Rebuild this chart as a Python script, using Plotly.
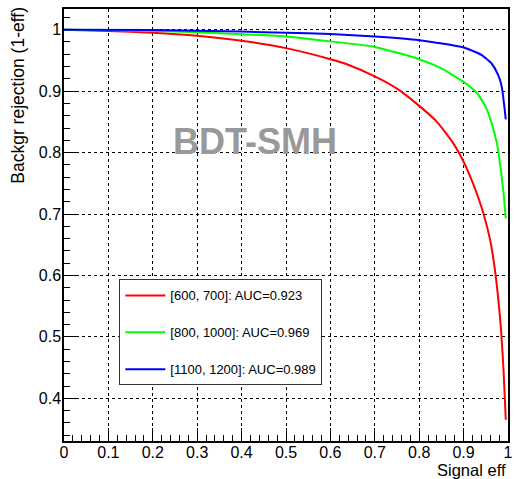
import plotly.graph_objects as go

# ---- data ----
names = ["[600, 700]: AUC=0.923", "[800, 1000]: AUC=0.969", "[1100, 1200]: AUC=0.989"]
colors = ["#ff0000", "#00ff00", "#0000ff"]

red_x = [0, 0.1, 0.2, 0.3, 0.4, 0.5, 0.6, 0.64, 0.7, 0.75, 0.8, 0.84, 0.875, 0.9, 0.92,
         0.93, 0.945, 0.96, 0.97, 0.98, 0.985, 0.99, 0.995]
red_y = [1.0, 0.998, 0.995, 0.990, 0.982, 0.970, 0.952, 0.943, 0.924, 0.904, 0.876, 0.850,
         0.817, 0.785, 0.752, 0.733, 0.700, 0.657, 0.612, 0.548, 0.505, 0.445, 0.365]

green_x = [0, 0.1, 0.2, 0.3, 0.4, 0.5, 0.6, 0.7, 0.8, 0.85, 0.9, 0.93, 0.95, 0.963,
           0.975, 0.984, 0.99, 0.995]
green_y = [1.0, 0.9995, 0.998, 0.996, 0.9925, 0.989, 0.981, 0.972, 0.952, 0.937, 0.915,
           0.897, 0.874, 0.848, 0.815, 0.771, 0.734, 0.693]

blue_x = [0, 0.2, 0.4, 0.5, 0.6, 0.7, 0.8, 0.9, 0.94, 0.963, 0.978, 0.986, 0.991, 0.995]
blue_y = [1.0, 0.9995, 0.997, 0.995, 0.993, 0.989, 0.983, 0.971, 0.959, 0.945, 0.926,
          0.907, 0.880, 0.854]

x_ticks = [0, 0.1, 0.2, 0.3, 0.4, 0.5, 0.6, 0.7, 0.8, 0.9, 1.0]
x_ticktext = ["0", "0.1", "0.2", "0.3", "0.4", "0.5", "0.6", "0.7", "0.8", "0.9", "1"]
y_ticks = [0.4, 0.5, 0.6, 0.7, 0.8, 0.9, 1.0]
y_ticktext = ["0.4", "0.5", "0.6", "0.7", "0.8", "0.9", "1"]

title_text = "BDT-SMH"
x_title = "Signal eff"
y_title = "Backgr rejection (1-eff)"

FONT = "Liberation Sans, Arial, Helvetica, sans-serif"

fig = go.Figure()
for i, (xs, ys) in enumerate([(red_x, red_y), (green_x, green_y), (blue_x, blue_y)]):
    fig.add_trace(go.Scatter(x=xs, y=ys, mode="lines", name=names[i],
                             line=dict(color=colors[i], width=2, shape="spline", smoothing=0.5),
                             legendgroup=str(i)))

axis_common = dict(
    showline=True, linecolor="black", linewidth=1.5, mirror=True,
    ticks="inside", ticklen=13, tickcolor="black", tickwidth=1,
    showgrid=True, gridcolor="black", griddash="dot", gridwidth=1,
    zeroline=False,
    tickfont=dict(family=FONT, size=16, color="black"),
    minor=dict(dtick=0.02, ticks="inside", ticklen=6, tickcolor="black", showgrid=False),
    ticklabeloverflow="allow",
)

fig.update_layout(
    width=514, height=479,
    margin=dict(l=64, r=1, t=9, b=38),
    paper_bgcolor="white", plot_bgcolor="white",
    font=dict(family=FONT, color="black"),
    xaxis=dict(range=[0, 1.0], tickvals=x_ticks, ticktext=x_ticktext,
               ticklabelstandoff=-4, **axis_common),
    yaxis=dict(range=[0.3305, 1.0337], tickvals=y_ticks, ticktext=y_ticktext,
               ticklabelstandoff=-2, **axis_common),
    showlegend=True,
    legend=dict(x=0.1247, y=0.374, xanchor="left", yanchor="top",
                bgcolor="white", bordercolor="#333333", borderwidth=1,
                font=dict(family=FONT, size=13, color="black"),
                tracegroupgap=17, itemwidth=40),
)

fig.add_annotation(text="<b>%s</b>" % title_text, x=0.43, y=0.818, xref="x", yref="y",
                   showarrow=False, font=dict(family=FONT, size=36, color="#999999"))
fig.add_annotation(text=x_title, x=1.0, y=-0.066, xref="paper", yref="paper",
                   xanchor="right", yanchor="middle", showarrow=False,
                   font=dict(family=FONT, size=16.5, color="black"))
fig.add_annotation(text=y_title, x=-0.1024, y=1.01, xref="paper", yref="paper",
                   xanchor="center", yanchor="top", textangle=-90, showarrow=False,
                   font=dict(family=FONT, size=17.5, color="black"))

fig.write_html("out.html")
